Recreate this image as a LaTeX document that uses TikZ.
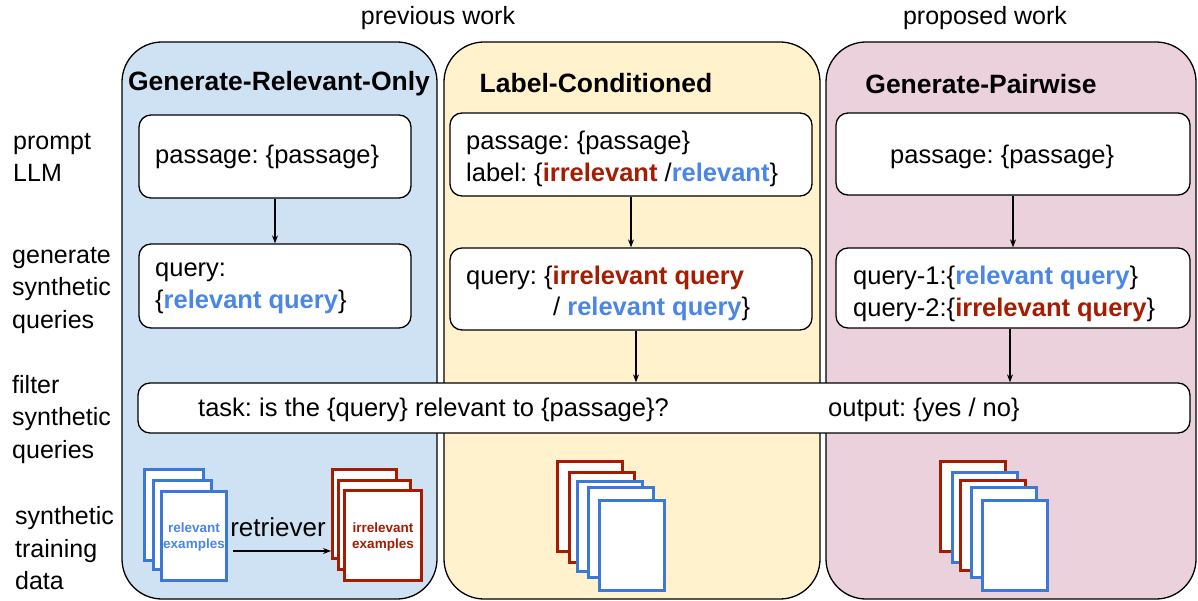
\documentclass[tikz,border=0pt]{standalone}
\usepackage{fontspec}
\setmainfont{Liberation Sans}
\usetikzlibrary{arrows.meta}
\definecolor{panelblue}{HTML}{CFE2F3}
\definecolor{panelyellow}{HTML}{FFF2CC}
\definecolor{panelpink}{HTML}{EAD1DC}
\definecolor{relblue}{HTML}{4A86E8}
\definecolor{docblue}{HTML}{3C78D8}
\definecolor{irred}{HTML}{A61C00}
\newcommand{\rel}[1]{\textcolor{relblue}{\bfseries #1}}
\newcommand{\irr}[1]{\textcolor{irred}{\bfseries #1}}
\frenchspacing
\begin{document}
\begin{tikzpicture}[x=1pt,y=-1pt,
  panel/.style={draw=black,line width=1.3pt,rounded corners=40pt,inner sep=0pt},
  box/.style={draw=black,line width=1.3pt,fill=white,rounded corners=12pt,inner sep=0pt},
  txt/.style={font=\fontsize{25.5}{32}\selectfont,inner sep=0pt,align=left,anchor=west},
  side/.style={font=\fontsize{25}{32.5}\selectfont,inner sep=0pt,align=left,anchor=west},
  title/.style={font=\fontsize{26.5}{32}\selectfont\bfseries,inner sep=0pt},
  doc/.style={draw=#1,line width=3pt,fill=white,inner sep=0pt,minimum width=65pt,minimum height=90pt},
  smalltxt/.style={font=\fontsize{13.5}{16.5}\selectfont\bfseries,inner sep=0pt,align=center},
  arr/.style={-{Stealth[length=8pt,width=6pt]},line width=1.1pt}]
\useasboundingbox (0,0) rectangle (1198,601);

% column headings
\node[font=\fontsize{25}{30}\selectfont,inner sep=0pt] (prev) at (438,18) {previous work};
\node[font=\fontsize{25}{30}\selectfont,inner sep=0pt] (prop) at (985,18) {proposed work};

% panels
\node[panel,fill=panelblue,minimum width=315pt,minimum height=557pt] (pa) at (279.5,320.5) {};
\node[panel,fill=panelyellow,minimum width=376pt,minimum height=557pt] (pb) at (632,320.5) {};
\node[panel,fill=panelpink,minimum width=370pt,minimum height=557pt] (pc) at (1011,320.5) {};

\node[title] (ta) at (279,84) {Generate-Relevant-Only};
\node[title] (tb) at (596,83) {Label-Conditioned};
\node[title] (tc) at (981,84) {Generate-Pairwise};

% row labels
\node[side] (l1) at (13,157.5) {prompt\\LLM};
\node[side] (l2) at (12,290.5) {generate\\synthetic\\queries};
\node[side] (l3) at (12,419.5) {filter\\synthetic\\queries};
\node[side] (l4) at (15,548.5) {synthetic\\training\\data};

% prompt and generation boxes
\node[box,minimum width=272pt,minimum height=83pt] (b1) at (275,156.5) {};
\node[box,minimum width=272pt,minimum height=84pt] (b2) at (275,286) {};
\node[box,minimum width=362pt,minimum height=83pt] (y1) at (631,154.5) {};
\node[box,minimum width=362pt,minimum height=82pt] (y2) at (631,289) {};
\node[box,minimum width=354pt,minimum height=82pt] (c1) at (1013,154) {};
\node[box,minimum width=354pt,minimum height=80pt] (c2) at (1013,288) {};
\node[box,minimum width=1052pt,minimum height=50pt] (f) at (664,408) {};

\node[txt] (tb1) at (155,157) {passage: \{passage\}};
\node[txt] (tb2) at (155,288.5) {query:\\\{\rel{relevant query}\}};
\node[txt] (ty1) at (466,158.5) {passage: \{passage\}\\label: \{\irr{irrelevant} /\rel{relevant}\}};
\node[txt] (ty2a) at (466,277.5) {query: \{\irr{irrelevant query}};
\node[txt] (ty2b) at (553,309) {/ \rel{relevant query}\}};
\node[txt] (tc1) at (890,157) {passage: \{passage\}};
\node[txt] (tc2) at (853,293.5) {query-1:\{\rel{relevant query}\}\\query-2:\{\irr{irrelevant query}\}};
\node[txt] (tf1) at (198,410) {task: is the \{query\} relevant to \{passage\}?};
\node[txt] (tf2) at (828,410) {output: \{yes / no\}};

% flow arrows
\draw[arr] (b1) -- (b2);
\draw[arr] (y1) -- (y2);
\draw[arr] ([xshift=5pt]y2.south) -- ([xshift=5pt]y2.south |- f.north);
\draw[arr] (c1) -- (c2);
\draw[arr] ([xshift=-3pt]c2.south) -- ([xshift=-3pt]c2.south |- f.north);

% training data stacks
\node[doc=docblue,minimum width=59pt,minimum height=91pt] (ba1) at (174,515) {};
\node[doc=docblue,minimum width=58pt,minimum height=89pt] (ba2) at (182.5,525) {};
\node[doc=docblue,minimum width=65pt,minimum height=89pt] (ba3) at (194,536) {};
\node[smalltxt,text=relblue] (rex) at (194,537) {relevant\\examples};

\node[doc=irred,minimum width=64pt,minimum height=89pt] (ra1) at (364.5,514) {};
\node[doc=irred,minimum width=72pt,minimum height=89pt] (ra2) at (374.5,525) {};
\node[doc=irred,minimum width=77pt,minimum height=90pt] (ra3) at (383,535.5) {};
\node[smalltxt,text=irred] (iex) at (383,537) {irrelevant\\examples};

\node[font=\fontsize{26}{30}\selectfont,inner sep=0pt] (ret) at (278,527) {retriever};
\coordinate (rs) at (233,551);
\draw[arr] (rs) -- (rs -| ra1.west);

\node[doc=irred] (yd1) at (590,506.5) {};
\node[doc=irred] (yd2) at (601.5,517) {};
\node[doc=docblue] (yd3) at (610,526) {};
\node[doc=docblue] (yd4) at (621,532) {};
\node[doc=docblue] (yd5) at (632,545.5) {};

\node[doc=irred] (cd1) at (973,506.5) {};
\node[doc=docblue] (cd2) at (985,517.5) {};
\node[doc=irred] (cd3) at (993,525.5) {};
\node[doc=docblue] (cd4) at (1004,532) {};
\node[doc=docblue] (cd5) at (1015,545.5) {};
\end{tikzpicture}
\end{document}
